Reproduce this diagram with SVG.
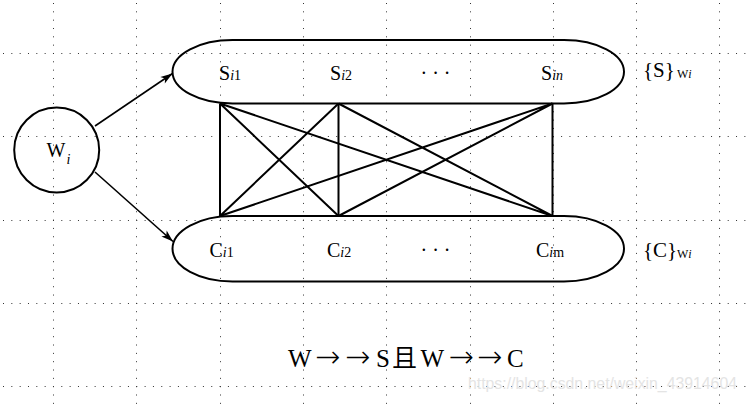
<svg xmlns="http://www.w3.org/2000/svg" width="748" height="404" viewBox="0 0 748 404">
<style>
.grid{stroke:#333;stroke-width:1;stroke-dasharray:1 7.33;fill:none}
.shape{fill:none;stroke:#000;stroke-width:2}
.edge{stroke:#000;stroke-width:2;fill:none}
.arr{stroke:#000;stroke-width:1.6;fill:none;marker-end:url(#ah)}
text{font-family:"Liberation Serif","Times New Roman",serif;fill:#000}
.lbl{font-size:20px}
.sub{font-size:14px}
.it{font-style:italic}
.small{font-size:12px}
.ar{font-family:"DejaVu Sans",sans-serif;font-weight:200;font-size:30px}
</style>
<defs>
<marker id="ah" markerUnits="userSpaceOnUse" markerWidth="16" markerHeight="12" viewBox="-13 -6 14 12" refX="0" refY="0" orient="auto">
<path d="M0,0 L-12,-4 L-9,0 L-12,4 Z" fill="#000"/>
</marker>
</defs>
<g id="grid">
<path class="grid" d="M53.5,3V404M136.5,3V404M220.5,3V404M303.5,3V404M386.5,3V404M470.5,3V404M553.5,3V404M636.5,3V404M719.5,3V404"/>
<path class="grid" d="M3,53.5H748M3,136.5H748M3,220.5H748M3,303.5H748M3,386.5H748"/>
</g>
<g id="node-W">
<circle class="shape" cx="56.7" cy="150" r="42.5"/>
<text x="46.5" y="156.7" class="lbl">W</text>
<text x="66.5" y="163.5" class="sub it">i</text>
</g>
<g id="node-S">
<rect class="shape" x="172.5" y="40" width="451.5" height="63.5" rx="60" ry="31.75"/>
<text x="219" y="79.5" class="lbl">S<tspan class="sub it">i</tspan><tspan class="sub">1</tspan></text>
<text x="330" y="79.5" class="lbl">S<tspan class="sub it">i</tspan><tspan class="sub">2</tspan></text>
<text x="420.5" y="79.5" class="lbl">· · ·</text>
<text x="541" y="79.5" class="lbl">S<tspan class="sub it">in</tspan></text>
</g>
<g id="label-S">
<text x="643" y="77" class="lbl" style="font-size:21px">{S}</text>
<text x="677" y="78" class="small">W<tspan class="it">i</tspan></text>
</g>
<g id="node-C">
<rect class="shape" x="172.5" y="216" width="451.5" height="65.5" rx="60" ry="32.75"/>
<text x="209.5" y="256.7" class="lbl">C<tspan class="sub it">i</tspan><tspan class="sub">1</tspan></text>
<text x="327" y="256.7" class="lbl">C<tspan class="sub it">i</tspan><tspan class="sub">2</tspan></text>
<text x="420.5" y="256.7" class="lbl">· · ·</text>
<text x="536" y="256.7" class="lbl">C<tspan class="sub it">i</tspan><tspan class="sub">m</tspan></text>
</g>
<g id="label-C">
<text x="643" y="256.5" class="lbl" style="font-size:21px">{C}</text>
<text x="677" y="258" class="small">W<tspan class="it">i</tspan></text>
</g>
<g id="connectors">
<path class="arr" d="M95,126 L172.5,73.5"/>
<path class="arr" d="M95,172 L173,241.5"/>
<path class="edge" d="M220,103.5V216M338.5,103.5V216M552.5,103.5V216"/>
<path class="edge" d="M220,103.5L338.5,216M220,103.5L552.5,216M338.5,103.5L220,216M338.5,103.5L552.5,216M552.5,103.5L220,216M552.5,103.5L338.5,216"/>
</g>
<g id="formula">
<text y="366.7" style="font-family:'Liberation Serif','Noto Sans CJK SC',serif;font-size:25px"><tspan x="288">W</tspan><tspan x="315" class="ar">→</tspan><tspan x="345" class="ar">→</tspan><tspan x="376">S</tspan><tspan x="392">且</tspan><tspan x="420.5">W</tspan><tspan x="448.5" class="ar">→</tspan><tspan x="477" class="ar">→</tspan><tspan x="507">C</tspan></text>
</g>
<g id="watermark">
<text x="468" y="389" textLength="269" lengthAdjust="spacingAndGlyphs" style="font-family:'Liberation Sans',Arial,sans-serif;font-size:16px;fill:#e4e4e4">https://blog.csdn.net/weixin_43914604</text>
</g>
</svg>
